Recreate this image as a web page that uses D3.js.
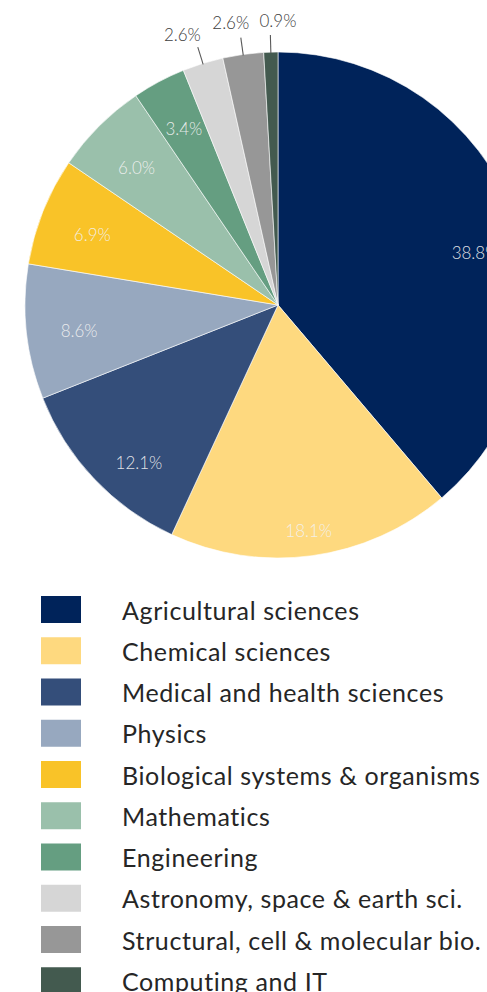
<!DOCTYPE html>
<html>
<head>
<meta charset="utf-8">
<script src="https://cdn.jsdelivr.net/npm/d3@7"></script>
<style>
  html, body { margin: 0; padding: 0; background: #fff; }
  svg { display: block; }
</style>
</head>
<body>
<svg id="chart" width="487" height="992"></svg>
<script>
const categories = [
  "Agricultural sciences",
  "Chemical sciences",
  "Medical and health sciences",
  "Physics",
  "Biological systems & organisms",
  "Mathematics",
  "Engineering",
  "Astronomy, space & earth sci.",
  "Structural, cell & molecular bio.",
  "Computing and IT"
];
const values = [38.8, 18.1, 12.1, 8.6, 6.9, 6.0, 3.4, 2.6, 2.6, 0.9];
const valueLabels = ["38.8%", "18.1%", "12.1%", "8.6%", "6.9%", "6.0%", "3.4%", "2.6%", "2.6%", "0.9%"];
const colors = ["#00235a", "#fed97f", "#344e7a", "#97a8bf", "#f9c328", "#9ac0ab", "#659e81", "#d6d6d6", "#979797", "#435a4f"];

const svg = d3.select("#chart");
const cx = 278, cy = 305, R = 253;

const color = d3.scaleOrdinal().domain(categories).range(colors);
const pie = d3.pie().sort(null).value(d => d.v);
const data = categories.map((c, i) => ({ c, v: values[i], label: valueLabels[i] }));
const arcs = pie(data);

const g = svg.append("g").attr("transform", `translate(${cx},${cy})`);
const arc = d3.arc().innerRadius(0).outerRadius(R);

g.selectAll("path.slice").data(arcs).enter().append("path")
  .attr("class", "slice")
  .attr("d", arc)
  .attr("fill", d => color(d.data.c))
  .attr("stroke", "#ffffff")
  .attr("stroke-width", 0.6);

const fontFam = "Lato, 'Open Sans', sans-serif";
const threshold = 3;

// inside labels
arcs.filter(d => d.data.v >= threshold).forEach(d => {
  const mid = (d.startAngle + d.endAngle) / 2;
  let r = 200, a = mid, dy = 4;
  if (d.index === 1) { r = 228; dy = 0; }         // Chemical pushed outwards
  if (d.index === 0) { a = mid + 0.09; r = 204; dy = 0; }
  if (d.index === 2) { a = mid - 0.09; r = 210; dy = 0; }
  if (d.index === 6) dy = 0;
  const x = Math.sin(a) * r, y = -Math.cos(a) * r + dy;
  g.append("text")
    .attr("x", x).attr("y", y)
    .attr("text-anchor", "middle")
    .attr("dominant-baseline", "central")
    .attr("font-family", fontFam)
    .attr("font-weight", 300)
    .attr("font-size", 17)
    .attr("fill", "#f2f2f2")
    .attr("fill-opacity", 0.92)
    .text(d.data.label);
});

// outside labels with leader lines
arcs.filter(d => d.data.v < threshold).forEach(d => {
  const mid = (d.startAngle + d.endAngle) / 2;
  const p0 = [Math.sin(mid) * (R - 1), -Math.cos(mid) * (R - 1)];
  const p1 = [Math.sin(mid) * (R + 17), -Math.cos(mid) * (R + 17)];
  g.append("line")
    .attr("x1", p0[0]).attr("y1", p0[1])
    .attr("x2", p1[0]).attr("y2", p1[1])
    .attr("stroke", "#595959").attr("stroke-width", 1.1);
  let lr = 285;
  let lx = Math.sin(mid) * lr, ly = -Math.cos(mid) * lr;
  if (d.index === 7) { lx -= 11; ly += 2; }
  if (d.index === 8) lx -= 8;
  if (d.index === 9) lx += 8;
  g.append("text")
    .attr("x", lx).attr("y", ly)
    .attr("text-anchor", "middle")
    .attr("dominant-baseline", "central")
    .attr("font-family", fontFam)
    .attr("font-weight", 300)
    .attr("font-size", 17)
    .attr("fill", "#404040")
    .text(d.data.label);
});

// legend
const legendY = d3.scaleBand().domain(categories).range([596, 596 + 41.25 * categories.length]).paddingInner(0);
const lg = svg.append("g");
const rows = lg.selectAll("g.row").data(categories).enter().append("g")
  .attr("class", "row")
  .attr("transform", d => `translate(0,${legendY(d)})`);
rows.append("rect")
  .attr("x", 41).attr("y", 0).attr("width", 40).attr("height", 27)
  .attr("fill", d => color(d));
rows.append("text")
  .attr("x", 122).attr("y", 13.5)
  .attr("dominant-baseline", "central")
  .attr("font-family", fontFam)
  .attr("font-size", 25)
  .attr("letter-spacing", 0.6)
  .attr("fill", "#262626")
  .text(d => d);
</script>
</body>
</html>
